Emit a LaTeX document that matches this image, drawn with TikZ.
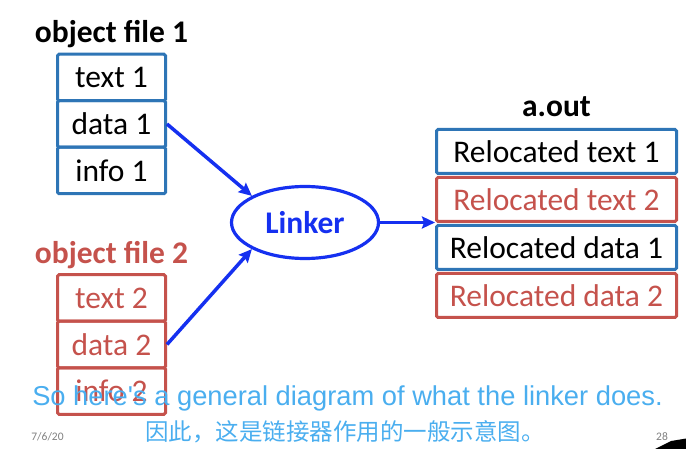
\documentclass[tikz,border=0pt]{standalone}
\usepackage{fontspec}
\setmainfont{Carlito}
\newfontfamily\subfont[Ligatures=TeXOff]{Liberation Sans}
\newfontfamily\cjk{Noto Sans CJK SC}
\usetikzlibrary{arrows.meta,positioning,shapes.geometric}
\definecolor{objblue}{HTML}{2E75B6}
\definecolor{objred}{HTML}{C5524C}
\definecolor{linkblue}{HTML}{1530F0}
\definecolor{subblue}{HTML}{4AAEEF}
\definecolor{footgray}{HTML}{7F7F7F}
\tikzset{
  cell/.style={draw=objblue, line width=3pt, rounded corners=1.5pt, minimum width=108pt,
               minimum height=46.5pt, inner sep=0pt, font=\fontsize{31.5}{36}\selectfont},
  redcell/.style={cell, draw=objred, text=objred},
  outcell/.style={cell, minimum width=240pt, minimum height=44pt},
  redout/.style={outcell, draw=objred, text=objred},
  head/.style={inner sep=0pt, font=\fontsize{31.5}{36}\selectfont\bfseries},
  arr/.style={-{Stealth[length=13pt, width=12pt, inset=2pt]}, line width=3.5pt, linkblue},
  sub/.style={text=subblue, font=\subfont\fontsize{27.3}{31}\selectfont},
  foot/.style={text=footgray, font=\fontsize{11.5}{13}\selectfont}
}

\begin{document}
\begin{tikzpicture}[x=1pt, y=-1pt]
  \useasboundingbox (0,0) rectangle (686,449);
  % object file 1
  \node[cell] (t1) at (111.5,77.5) {text 1};
  \node[cell, below=-3pt of t1] (d1) {data 1};
  \node[cell, below=-3pt of d1] (i1) {info 1};
  \node[head, above=5pt of t1] (of1) {object file 1};
  % object file 2
  \node[redcell] (t2) at (111.5,298) {text 2};
  \node[redcell, below=-3pt of t2] (d2) {data 2};
  \node[redcell, below=-3pt of d2] (i2) {info 2};
  \node[head, text=objred, above=4pt of t2] (of2) {object file 2};
  % linker
  \node[ellipse, draw=linkblue, line width=3.2pt, minimum width=147pt, minimum height=72pt,
        head, text=linkblue] (linker) at (305,222.5) {Linker};
  % a.out
  \node[outcell] (rt1) at (556.5,151.5) {Relocated text 1};
  \node[redout, below=1pt of rt1] (rt2) {Relocated text 2};
  \node[outcell, below=1pt of rt2] (rd1) {Relocated data 1};
  \node[redout, below=1pt of rd1] (rd2) {Relocated data 2};
  \node[head, above=11pt of rt1] (aout) {a.out};
  \draw[arr] (d1.east) -- (linker.north west);
  \draw[arr] (d2.east) -- (linker.south west);
  \draw[arr] (linker.east) -- (linker.east -| rd1.west);
  % subtitles and footer
  \node[sub] (en) at (347.5,398) {So here's a general diagram of what the linker does.};
  \node[sub, font=\cjk\fontsize{23.5}{28}\selectfont] (zh) at (345,432) {因此，这是链接器作用的一般示意图。};
  \node[foot] (date) at (47.5,437) {7/6/20};
  \node[foot] (page) at (662,437) {28};
  \fill[black] (655,449) -- (671,441) -- (686,438.5) -- (686,449) -- cycle;
\end{tikzpicture}
\end{document}
